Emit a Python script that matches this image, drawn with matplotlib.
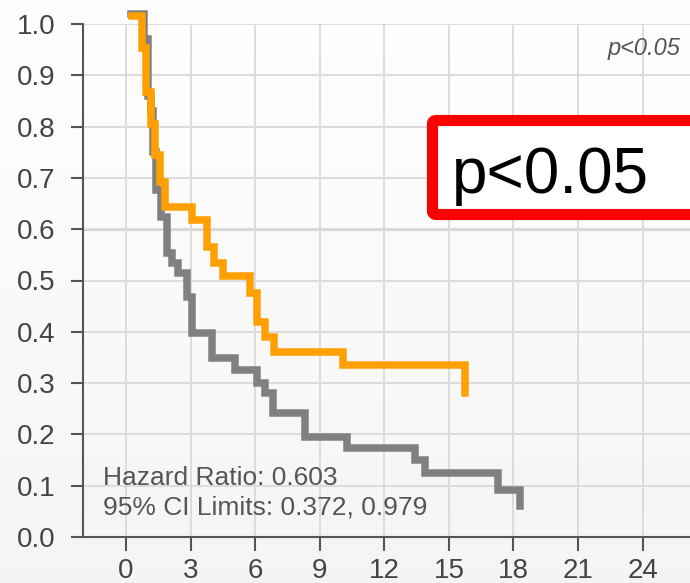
import numpy as np
import matplotlib
matplotlib.use("Agg")
import matplotlib.pyplot as plt
from matplotlib.patches import FancyBboxPatch

plt.rcParams['font.family'] = ['Liberation Sans', 'DejaVu Sans']

# survival curves (time in months, survival fraction)
orange_t = [0.28, 0.76, 0.91, 1.15, 1.35, 1.58, 1.80, 3.05, 3.78, 4.09, 4.52,
            5.76, 6.07, 6.46, 6.87, 10.09, 15.75]
orange_s = [1.015, 0.953, 0.867, 0.805, 0.745, 0.692, 0.643, 0.618, 0.565, 0.534,
            0.509, 0.476, 0.42, 0.39, 0.361, 0.335, 0.28]

gray_t = [0.25, 0.85, 1.03, 1.15, 1.27, 1.39, 1.62, 1.89, 2.12, 2.43, 2.82, 3.05,
          3.98, 5.06, 6.07, 6.46, 6.84, 8.31, 10.25, 13.42, 13.89, 17.29, 18.3]
gray_s = [1.02, 0.97, 0.86, 0.83, 0.75, 0.676, 0.624, 0.553, 0.534, 0.514, 0.468,
          0.398, 0.349, 0.326, 0.30, 0.28, 0.241, 0.195, 0.173, 0.150, 0.125,
          0.092, 0.06]

x_ticks = [0, 3, 6, 9, 12, 15, 18, 21, 24]
y_ticks = [0.0, 0.1, 0.2, 0.3, 0.4, 0.5, 0.6, 0.7, 0.8, 0.9, 1.0]

hr_text = "Hazard Ratio: 0.603"
ci_text = "95% CI Limits: 0.372, 0.979"
p_small = "p<0.05"
p_big = "p<0.05"

W, H = 690, 583
fig = plt.figure(figsize=(W / 100, H / 100), dpi=100)

# faint vertical background gradient
bg = fig.add_axes([0, 0, 1, 1], zorder=-5)
grad = np.linspace(1.0, 0.96, 256).reshape(-1, 1)
bg.imshow(np.dstack([grad, grad, grad]), aspect='auto', extent=[0, 1, 0, 1])
bg.axis('off')

ax = fig.add_axes([83 / W, (H - 537) / H, 1 - 83 / W, (537 - 24) / H])
ax.set_facecolor('none')
ax.set_xlim(-2.0, 26.2)
ax.set_ylim(0, 1.0)

ax.set_xticks(x_ticks)
ax.set_yticks(y_ticks)
ax.set_yticklabels([f"{v:.1f}" for v in y_ticks])
ax.grid(True, color='#dcdcdc', linewidth=1.4, zorder=0)
ax.set_axisbelow(True)
ax.axhline(0.6, color='#d2d2d2', linewidth=2.2, zorder=0.5)

for side in ['top', 'right']:
    ax.spines[side].set_visible(False)
for side in ['left', 'bottom']:
    ax.spines[side].set_color('#555555')
    ax.spines[side].set_linewidth(1.5)

ax.tick_params(axis='y', direction='out', length=8.6, width=1.5, color='#555555',
               labelsize=20, labelcolor='#444444', pad=11)
ax.tick_params(axis='x', direction='out', length=10, width=1.5, color='#555555',
               labelsize=20, labelcolor='#444444', pad=5)

ax.plot(gray_t, gray_s, drawstyle='steps-post', color='#808080', linewidth=5.4,
        solid_joinstyle='miter', clip_on=False, zorder=3)
ax.plot(orange_t, orange_s, drawstyle='steps-post', color='#ffa000', linewidth=5.4,
        solid_joinstyle='miter', clip_on=False, zorder=4)

ax.text(103 / W, (H - 485) / H, hr_text, transform=fig.transFigure, fontsize=19,
        color='#555555', va='baseline', ha='left')
ax.text(103 / W, (H - 515) / H, ci_text, transform=fig.transFigure, fontsize=19,
        color='#555555', va='baseline', ha='left')

ax.text(608 / W, (H - 55) / H, p_small, transform=fig.transFigure, fontsize=17,
        style='italic', color='#555555', va='baseline', ha='left')

# red highlight box running off the right edge
box = FancyBboxPatch((432.5 / W, (H - 214.5) / H), (720 - 432.5) / W, 94 / H,
                     boxstyle="round,pad=0,rounding_size=0.006",
                     transform=fig.transFigure, facecolor='white',
                     edgecolor='#ff0000', linewidth=8, zorder=10)
fig.patches.append(box)
fig.text(452 / W, (H - 193) / H, p_big, fontsize=46, color='black',
         va='baseline', ha='left', zorder=11)

fig.savefig("out.png", dpi=100)
